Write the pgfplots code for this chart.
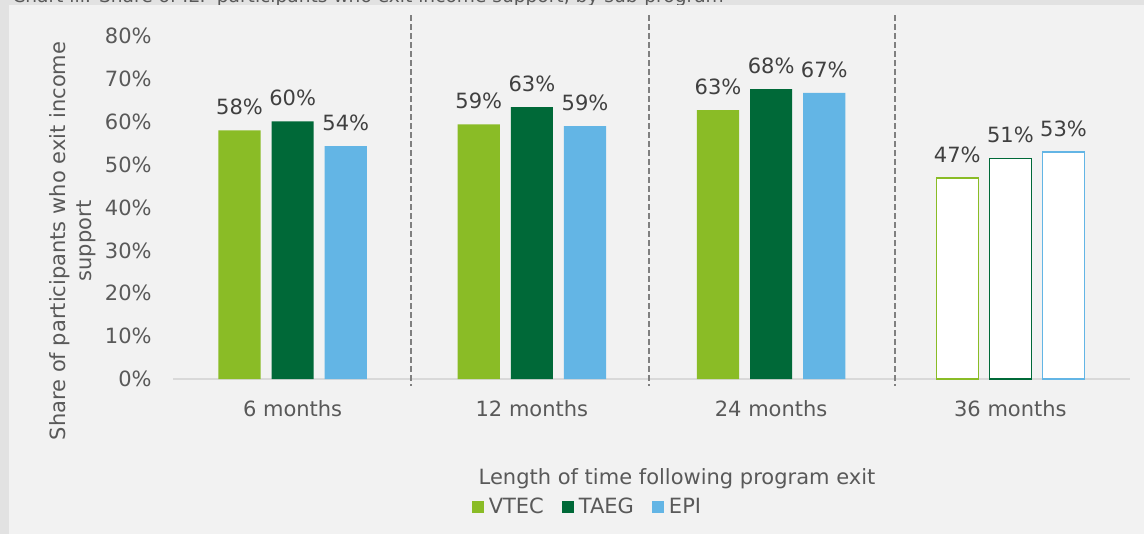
\documentclass[border=0pt]{standalone}
\usepackage{fontspec}
\setmainfont{DejaVu Sans}
\usepackage{pgfplots}
\pgfplotsset{compat=1.18}
\definecolor{vtec}{RGB}{138,188,38}
\definecolor{taeg}{RGB}{0,105,56}
\definecolor{epi}{RGB}{99,181,229}
\definecolor{panel}{RGB}{242,242,242}
\definecolor{strip}{RGB}{226,226,226}
\definecolor{txt}{RGB}{89,89,89}
\definecolor{lbl}{RGB}{64,64,64}
\definecolor{sep}{RGB}{128,128,128}
\definecolor{base}{RGB}{217,217,217}
\newcommand{\chartfont}{\fontsize{10.5}{13}\selectfont}

% bar centres: group centre -0.222 / 0 / +0.222
\pgfplotstableread{
x      y
-0.222 58.0
0.778  59.4
1.778  62.7
}\vtecdata
\pgfplotstableread{
x      y
0.000  60.1
1.000  63.4
2.000  67.6
}\taegdata
\pgfplotstableread{
x      y
0.222  54.3
1.222  59.0
2.222  66.7
}\epidata

\begin{document}
\begin{tikzpicture}
\useasboundingbox (0,0) rectangle (572pt,-267pt);
\begin{scope}[x=0.5pt,y=-0.5pt]
\clip (0,0) rectangle (1144,534);
\fill[strip] (0,0) rectangle (1144,534);
\node[anchor=base west, inner sep=0, font=\fontsize{9.3}{11}\selectfont, text=txt]
  at (12,3) {Chart iii: Share of IEP participants who exit income support, by sub-program};
\fill[panel] (9,5) rectangle (1144,534);
\node[rotate=90, align=center, font=\chartfont, text=txt] at (73,241)
  {Share of participants who exit income\\support};
\node[anchor=base, font=\chartfont, text=txt] at (677,484)
  {Length of time following program exit};
\end{scope}

\begin{axis}[
    at={(86.5pt,-189.5pt)}, anchor=south west,
    scale only axis, width=478.5pt, height=182.25pt,
    xmin=-0.5, xmax=3.5, ymin=0, ymax=85,
    clip=false,
    axis line style={draw=none},
    tick style={draw=none},
    xtick={0,1,2,3},
    xticklabels={6 months,12 months,24 months,36 months},
    ytick={0,10,...,80},
    yticklabel={\pgfmathprintnumber{\tick}\%},
    /pgf/number format/assume math mode=true,
    ticklabel style={font=\chartfont, text=txt},
    xticklabel style={anchor=base, yshift=-18.5pt},
    yticklabel style={anchor=east, inner sep=0pt, xshift=-10.5pt},
    bar width=0.176,
    nodes near coords={\pgfmathprintnumber[fixed,precision=0]{\pgfplotspointmeta}\%},
    every node near coord/.append style={font=\chartfont, text=lbl, anchor=base, yshift=7.8pt},
    legend columns=3,
    legend style={draw=none, fill=none, font=\chartfont, text=txt,
        at={(axis description cs:0.3055,-0.3525)}, anchor=west,
        nodes={inner sep=0pt}, column sep=2.5pt,
        /tikz/every even column/.append style={column sep=9pt}},
    legend image code/.code={\draw[#1, draw=none] (0pt,-3pt) rectangle (6pt,3pt);},
]
\draw[base, line width=0.75pt] (axis cs:-0.5,0) -- (axis cs:3.5,0);
\pgfplotsinvokeforeach{0.495,1.49,2.518}{
  \draw[sep, line width=0.85pt, dash pattern=on 3pt off 1.5pt]
    (axis cs:#1,84.8) -- (axis cs:#1,-1.65);
}
\addplot[ybar, bar shift=0pt, fill=vtec, draw=none] table[x=x,y=y] {\vtecdata};
\addplot[ybar, bar shift=0pt, fill=taeg, draw=none] table[x=x,y=y] {\taegdata};
\addplot[ybar, bar shift=0pt, fill=epi, draw=none] table[x=x,y=y] {\epidata};
\legend{VTEC,TAEG,EPI}
% 36 months: outlined bars
\addplot[ybar, bar shift=0pt, fill=white, draw=vtec, line width=0.7pt, forget plot]
  coordinates {(2.778,46.9)};
\addplot[ybar, bar shift=0pt, fill=white, draw=taeg, line width=0.7pt, forget plot]
  coordinates {(3.000,51.4)};
\addplot[ybar, bar shift=0pt, fill=white, draw=epi, line width=0.7pt, forget plot]
  coordinates {(3.222,52.9)};
\end{axis}
\end{tikzpicture}
\end{document}
